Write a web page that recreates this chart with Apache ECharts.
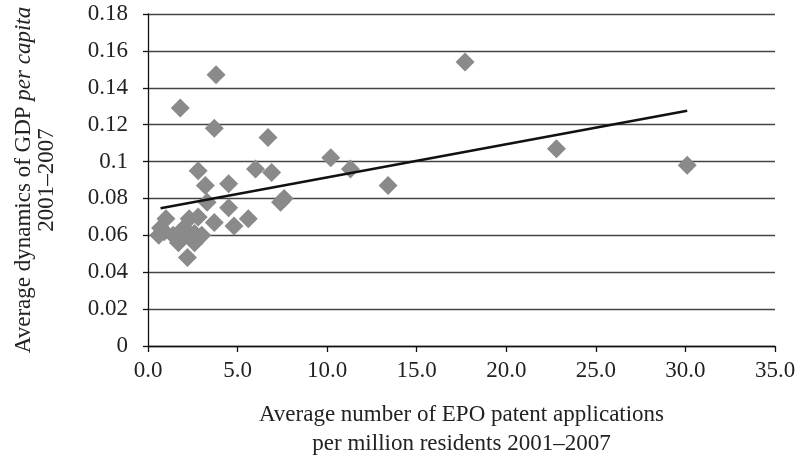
<!DOCTYPE html>
<html>
<head>
<meta charset="utf-8">
<script src="https://cdn.jsdelivr.net/npm/echarts@6/dist/echarts.min.js"></script>
<style>
  html, body { margin: 0; padding: 0; background: #fff; }
  #chart { width: 797px; height: 459px; }
</style>
</head>
<body>
<div id="chart"></div>
<script>
// Regions: patent applications per million residents vs GDP per capita growth
var patents = [
  17.7, 3.8, 1.8, 3.7, 6.7, 10.2, 22.8, 30.1, 11.3, 6.0,
  6.9, 2.8, 13.4, 3.2, 4.5, 7.6, 7.4, 3.3, 4.5, 3.7,
  4.8, 5.6, 1.0, 0.7, 0.6, 1.4, 1.7, 2.2, 2.3, 2.8,
  2.0, 2.6, 3.0, 2.6, 1.9, 0.9
];
var gdpGrowth = [
  0.154, 0.147, 0.129, 0.118, 0.113, 0.102, 0.107, 0.098, 0.096, 0.096,
  0.094, 0.095, 0.087, 0.087, 0.088, 0.080, 0.078, 0.078, 0.075, 0.067,
  0.065, 0.069, 0.069, 0.064, 0.060, 0.060, 0.056, 0.048, 0.069, 0.070,
  0.064, 0.061, 0.060, 0.056, 0.059, 0.062
];
// Linear trend line end points (x, y)
var trendX = [0.7, 30.1];
var trendY = [0.0747, 0.1276];

var xTicks = ['0.0', '5.0', '10.0', '15.0', '20.0', '25.0', '30.0', '35.0'];
var yTicks = ['0', '0.02', '0.04', '0.06', '0.08', '0.1', '0.12', '0.14', '0.16', '0.18'];

var points = patents.map(function (x, i) { return [x, gdpGrowth[i]]; });
var trend = trendX.map(function (x, i) { return [x, trendY[i]]; });

var serif = '"Liberation Serif", "DejaVu Serif", serif';
var chart = echarts.init(document.getElementById('chart'));
chart.setOption({
  animation: false,
  backgroundColor: '#fff',
  grid: { left: 148, right: 22, top: 14, bottom: 113, outerBoundsMode: 'none', containLabel: false },
  xAxis: {
    type: 'value', min: 0, max: 35, interval: 5,
    axisLine: { show: true, lineStyle: { color: '#111', width: 1.3 } },
    axisTick: { show: true, length: 6, lineStyle: { color: '#111', width: 1.3 } },
    splitLine: { show: false },
    axisLabel: {
      margin: 13, fontFamily: serif, fontSize: 23, color: '#222',
      formatter: function (v) { return xTicks[Math.round(v / 5)]; }
    },
    name: 'Average number of EPO patent applications\nper million residents 2001\u20132007',
    nameLocation: 'middle', nameGap: 54,
    nameTextStyle: { fontFamily: serif, fontSize: 23, color: '#222', lineHeight: 29 }
  },
  yAxis: {
    type: 'value', min: 0, max: 0.18, interval: 0.02,
    axisLine: { show: true, lineStyle: { color: '#111', width: 1.3 } },
    axisTick: { show: true, length: 5, lineStyle: { color: '#111', width: 1.3 } },
    splitLine: { show: true, lineStyle: { color: '#444', width: 1.3 } },
    axisLabel: {
      margin: 20, fontFamily: serif, fontSize: 23, color: '#222',
      formatter: function (v) { return yTicks[Math.round(v / 0.02)]; }
    },
    name: '{a|Average dynamics of GDP }{b|per capita}\n{a|2001\u20132007}',
    nameLocation: 'middle', nameRotate: 90, nameGap: 90,
    nameTextStyle: {
      lineHeight: 23,
      rich: {
        a: { fontFamily: serif, fontSize: 23, color: '#222', lineHeight: 23 },
        b: { fontFamily: serif, fontSize: 23, fontStyle: 'italic', color: '#222', lineHeight: 23 }
      }
    }
  },
  series: [
    {
      type: 'scatter',
      data: points,
      symbol: 'diamond',
      symbolSize: [19, 19],
      itemStyle: { color: '#8a8a8a', opacity: 1 },
      z: 2
    },
    {
      type: 'line',
      data: trend,
      symbol: 'none',
      lineStyle: { color: '#111', width: 2.5 },
      z: 3
    }
  ]
});
</script>
</body>
</html>
